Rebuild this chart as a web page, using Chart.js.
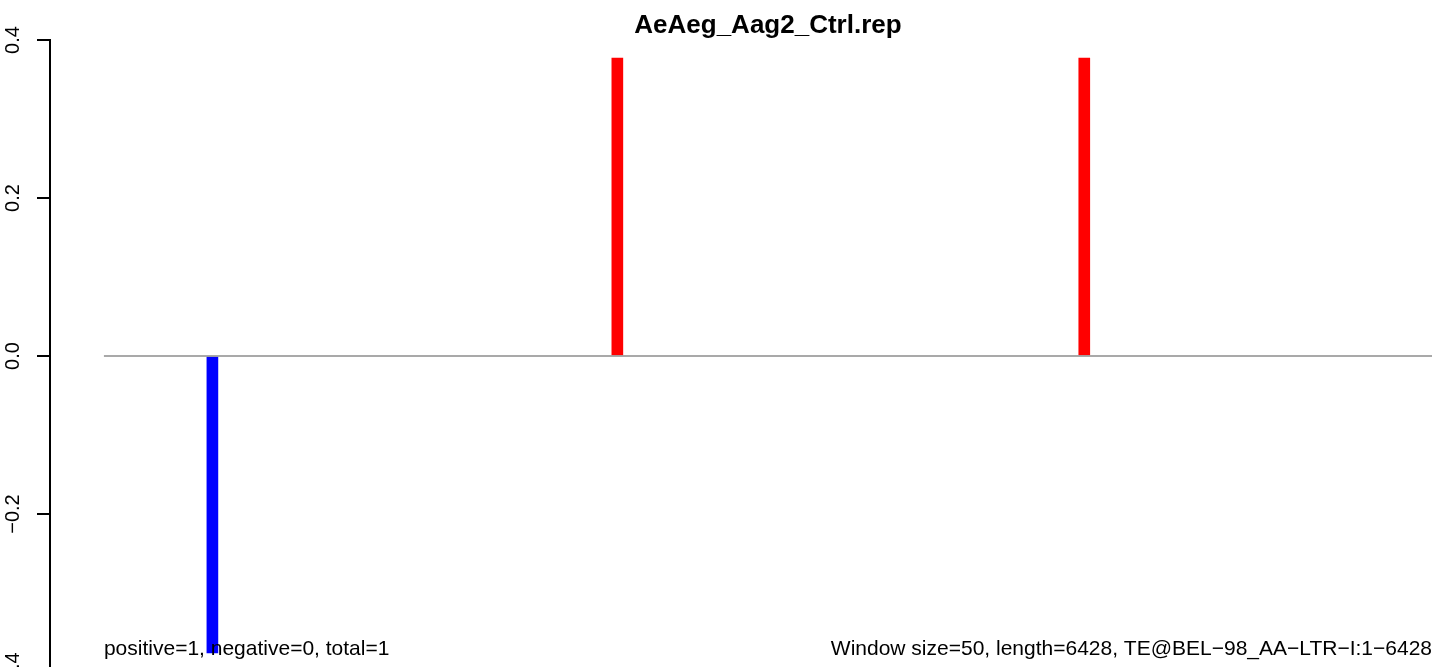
<!DOCTYPE html>
<html>
<head>
<meta charset="utf-8">
<script src="https://cdn.jsdelivr.net/npm/chart.js@4/dist/chart.umd.min.js"></script>
<style>
  html, body { margin: 0; padding: 0; background: #fff; overflow: hidden; }
  #wrap { width: 1444px; height: 700px; }
</style>
</head>
<body>
<div id="wrap"><canvas id="graph" width="1444" height="700"></canvas></div>
<script>
var plotTitle = 'AeAeg_Aag2_Ctrl.rep';
var seqLength = 6428;
var windowSize = 50;
var teName = 'TE@BEL\u221298_AA\u2212LTR\u2212I:1\u22126428';
var positiveCount = 1;
var negativeCount = 0;
var totalCount = 1;

// window centres (bp) and their values
var binPositions = [525, 2485, 4745];
var binValues = [-0.376, 0.377, 0.377];
var yTicks = [-0.4, -0.2, 0.0, 0.2, 0.4];

var xMin = -261; // R pads the x range, the y axis sits left of the data

var statText = 'positive=' + positiveCount + ', negative=' + negativeCount + ', total=' + totalCount;
var infoText = 'Window size=' + windowSize + ', length=' + seqLength + ', ' + teName;
var fontFamily = '"Liberation Sans", Arial, Helvetica, sans-serif';

function fmt(v) {
    var s = Math.abs(v).toFixed(1);
    return (v < -1e-9 ? '\u2212' : '') + s;
}

var bars = [];
var colors = [];
for (var i = 0; i < binPositions.length; i++) {
    bars.push({x: binPositions[i], y: binValues[i]});
    colors.push(binValues[i] < 0 ? '#0000FF' : '#FF0000');
}

// title and the two notes under the plot, placed from the x scale
var annotate = {
    id: 'annotate',
    afterDraw: function(chart) {
        var ctx = chart.ctx;
        var xs = chart.scales.x;
        var x0 = xs.getPixelForValue(0);
        var x1 = xs.getPixelForValue(seqLength);
        ctx.save();
        ctx.fillStyle = '#000';
        ctx.textBaseline = 'alphabetic';
        ctx.font = 'bold 26px ' + fontFamily;
        ctx.textAlign = 'center';
        ctx.fillText(plotTitle, (x0 + x1) / 2, 33);
        ctx.font = '21px ' + fontFamily;
        ctx.textAlign = 'left';
        ctx.fillText(statText, x0, 655);
        ctx.textAlign = 'right';
        ctx.fillText(infoText, x1, 655);
        ctx.restore();
    }
};

var ctx = document.getElementById('graph').getContext('2d');
var chart = new Chart(ctx, {
    type: 'bar',
    data: {
        datasets: [
            {
                type: 'line',
                data: [{x: 0, y: 0}, {x: seqLength, y: 0}],
                borderColor: '#8c8c8c',
                borderWidth: 1.5,
                pointRadius: 0,
                order: 0
            },
            {
                type: 'bar',
                data: bars,
                backgroundColor: colors,
                borderWidth: 0,
                barThickness: 11,
                order: 1
            }
        ]
    },
    options: {
        responsive: false,
        animation: false,
        devicePixelRatio: 1,
        layout: { padding: { left: 0, right: 12, top: 40, bottom: 28 } },
        plugins: { legend: { display: false }, tooltip: { enabled: false }, title: { display: false } },
        scales: {
            x: { type: 'linear', min: xMin, max: seqLength, offset: false, display: false },
            y: {
                min: -0.4,
                max: 0.4,
                afterBuildTicks: function(scale) {
                    scale.ticks = yTicks.map(function(v) { return {value: v}; });
                },
                afterFit: function(scale) { scale.width = 50; },
                ticks: {
                    minRotation: 90,
                    maxRotation: 90,
                    crossAlign: 'center',
                    padding: 4,
                    color: '#000',
                    font: { size: 20, family: fontFamily },
                    callback: function(v) { return fmt(v); }
                },
                grid: { drawOnChartArea: false, tickLength: 13, color: '#000', lineWidth: 2 },
                border: { color: '#000', width: 2 }
            }
        }
    },
    plugins: [annotate]
});
</script>
</body>
</html>
